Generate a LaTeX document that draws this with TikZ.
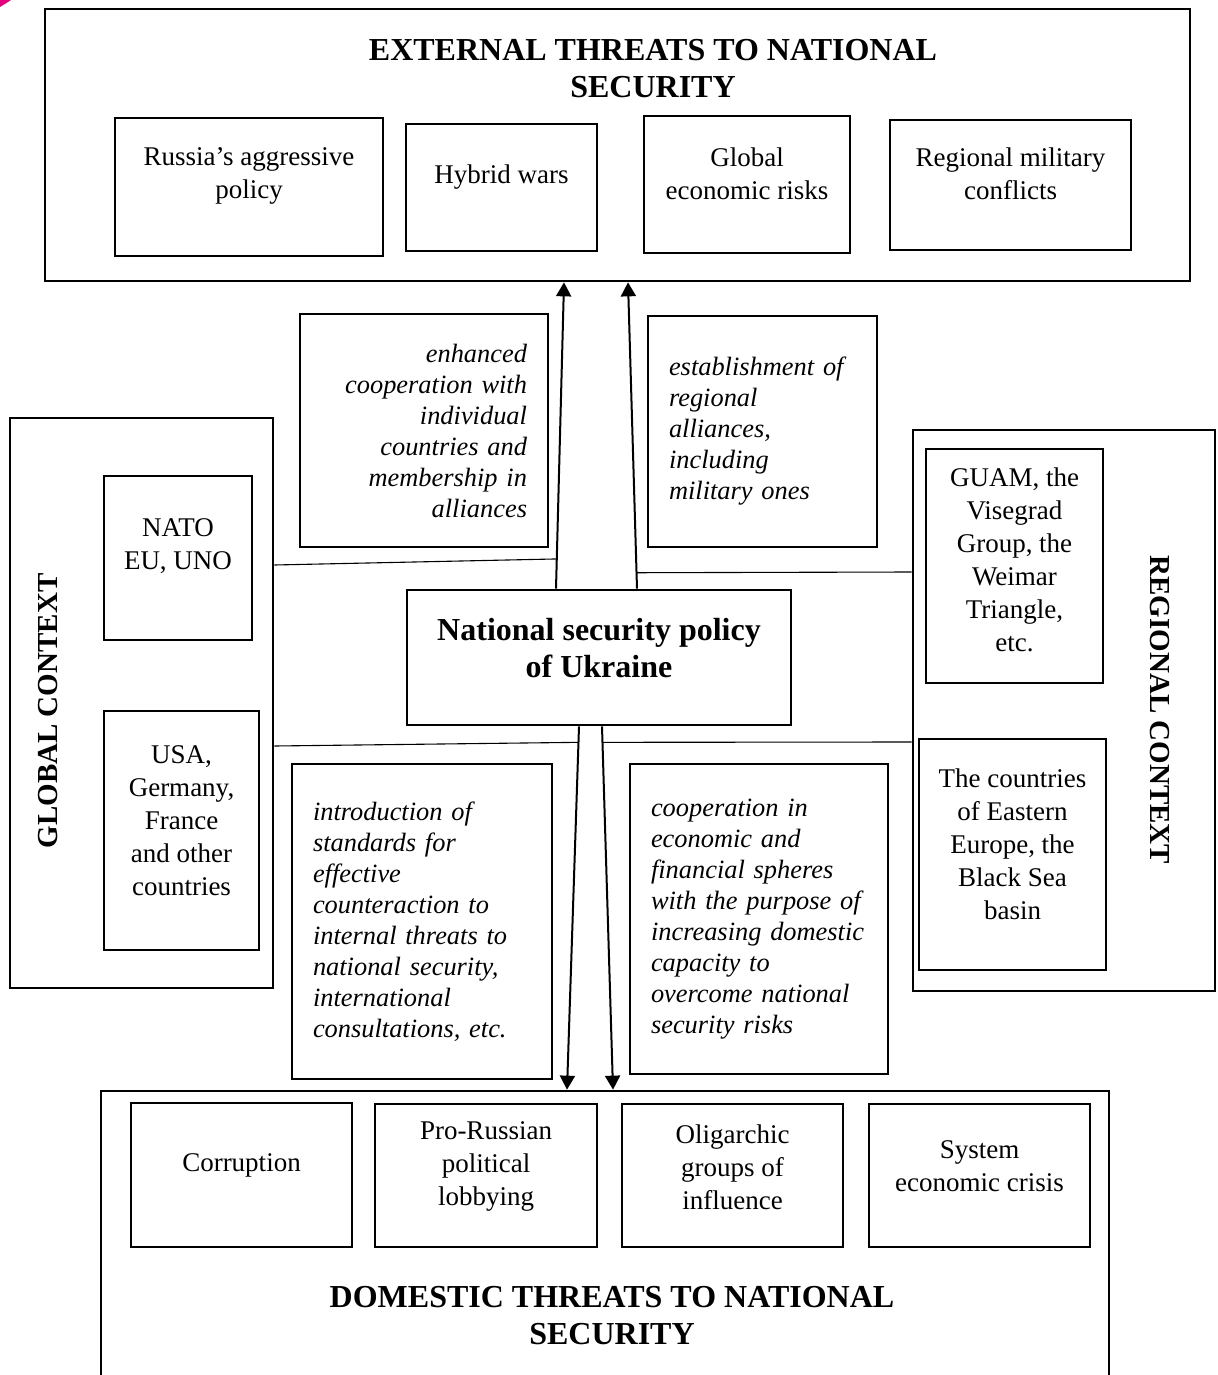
\documentclass[tikz,border=0pt]{standalone}
\usepackage{fontspec}
\setmainfont{Liberation Serif}
\usetikzlibrary{arrows.meta}
\definecolor{markpink}{RGB}{230,0,126}

\tikzset{
	box/.style={draw, line width=1.35pt, inner sep=0pt},
	txt/.style={align=center, inner sep=0pt, font=\fontsize{13.5}{16.5}\selectfont},
	note/.style={box, inner xsep=10.5pt, font=\fontsize{13.2}{15.5}\selectfont\itshape},
	head/.style={align=center, inner sep=0pt, font=\fontsize{16}{18.5}\selectfont\bfseries},
	side/.style={inner sep=0pt, font=\fontsize{14.5}{17}\selectfont\bfseries},
	link/.style={line width=0.55pt},
	push/.style={line width=1pt, -{Triangle[length=7pt, width=7.5pt]}}
}

\begin{document}
\begin{tikzpicture}[x=0.5pt, y=-0.5pt]
	\useasboundingbox (0,0) rectangle (1218,1375);
	\fill[markpink] (0,0) -- (11,0) .. controls (7,3) and (3,5) .. (0,7) -- cycle;

	\node[box, minimum width=572.5pt, minimum height=136pt] (ext) at (617.5,145) {};
	\node[head] (ext-t) at (653,68.5) {EXTERNAL THREATS TO NATIONAL\\SECURITY};
	\node[box, minimum width=134pt, minimum height=69pt] (rus) at (249,187) {};
	\node[txt] (rus-t) at ([yshift=5.5pt]rus.center) {Russia's aggressive\\policy};
	\node[box, minimum width=95.5pt, minimum height=63.5pt] (hyb) at (501.5,187.5) {};
	\node[txt] (hyb-t) at ([yshift=5pt]hyb.center) {Hybrid wars};
	\node[box, minimum width=103pt, minimum height=68.5pt] (gecon) at (747,184.5) {};
	\node[txt] (gecon-t) at ([yshift=5.25pt]gecon.center) {Global\\economic risks};
	\node[box, minimum width=120.5pt, minimum height=65pt] (regm) at (1010.5,185) {};
	\node[txt] (regm-t) at ([yshift=5.5pt]regm.center) {Regional military\\conflicts};

	\node[note, text width=103pt, align=right, minimum height=116.5pt] (enh) at (424,430.5)
		{enhanced\\cooperation with\\individual\\countries and\\membership in\\alliances};
	\node[note, text width=93.5pt, align=left, minimum height=115.5pt] (est) at (762.5,431.5)
		{establishment of\\regional\\alliances,\\including\\military ones};

	\node[box, minimum width=192pt, minimum height=67.5pt] (nsp) at (599,657.5) {};
	\node[head] (nsp-t) at ([yshift=4.5pt]nsp.center) {National security policy\\of Ukraine};

	\node[box, minimum width=131.5pt, minimum height=285pt] (gctx) at (141.5,703) {};
	\node[side, rotate=90] (gctx-t) at (48,711) {GLOBAL CONTEXT};
	\node[box, minimum width=74pt, minimum height=82pt] (nato) at (178,558) {};
	\node[txt] (nato-t) at ([yshift=6pt]nato.center) {NATO\\EU, UNO};
	\node[box, minimum width=77.5pt, minimum height=119.5pt] (usa) at (181.5,830.5) {};
	\node[txt] (usa-t) at ([yshift=4.75pt]usa.center) {USA,\\Germany,\\France\\and other\\countries};

	\node[box, minimum width=151pt, minimum height=280.5pt] (rctx) at (1064,710.5) {};
	\node[side, rotate=-90] (rctx-t) at (1160,710) {REGIONAL CONTEXT};
	\node[box, minimum width=88.5pt, minimum height=117pt] (guam) at (1014.5,566) {};
	\node[txt] (guam-t) at ([yshift=3pt]guam.center) {GUAM, the\\Visegrad\\Group, the\\Weimar\\Triangle,\\etc.};
	\node[box, minimum width=93.5pt, minimum height=115.5pt] (ceur) at (1012.5,854.5) {};
	\node[txt] (ceur-t) at ([yshift=5pt]ceur.center) {The countries\\of Eastern\\Europe, the\\Black Sea\\basin};

	\node[note, text width=109pt, align=left, minimum height=157.5pt] (intro) at (422,921.5)
		{introduction of\\standards for\\effective\\counteraction to\\internal threats to\\national security,\\international\\consultations, etc.};
	\node[note, text width=108pt, align=left, minimum height=155pt] (coop) at (759,919)
		{cooperation in\\economic and\\financial spheres\\with the purpose of\\increasing domestic\\capacity to\\overcome national\\security risks};

	\node[box, minimum width=504pt, minimum height=147pt] (dom) at (605,1238) {};
	\node[head] (dom-t) at (612,1315.5) {DOMESTIC THREATS TO NATIONAL\\SECURITY};
	\node[box, minimum width=110.5pt, minimum height=72pt] (corr) at (241.5,1175) {};
	\node[txt] (corr-t) at ([yshift=5pt]corr.center) {Corruption};
	\node[box, minimum width=111pt, minimum height=71.5pt] (lobby) at (486,1175.5) {};
	\node[txt] (lobby-t) at ([yshift=4.75pt]lobby.center) {Pro-Russian\\political\\lobbying};
	\node[box, minimum width=110.5pt, minimum height=71.5pt] (olig) at (732.5,1175.5) {};
	\node[txt] (olig-t) at ([yshift=4.25pt]olig.center) {Oligarchic\\groups of\\influence};
	\node[box, minimum width=110.5pt, minimum height=71.5pt] (crisis) at (979.5,1175.5) {};
	\node[txt] (crisis-t) at ([yshift=4.75pt]crisis.center) {System\\economic crisis};

	\draw[push] ([xshift=-21.5pt]nsp.north) -- coordinate[pos=0.097] (ul) ([xshift=-26.75pt]ext.south);
	\draw[push] ([xshift=19pt]nsp.north) -- coordinate[pos=0.052] (ur) ([xshift=5.25pt]ext.south);
	\draw[push] ([xshift=-10pt]nsp.south) -- coordinate[pos=0.044] (dl) ([xshift=-19pt]dom.north);
	\draw[push] ([xshift=1.5pt]nsp.south) -- coordinate[pos=0.044] (dr) ([xshift=4pt]dom.north);

	\draw[link] ([yshift=69pt]gctx.east) -- (ul);
	\draw[link] ([yshift=-21.5pt]gctx.east) -- (dl);
	\draw[link] (ur) -- ([yshift=69.25pt]rctx.west);
	\draw[link] (dr) -- ([yshift=-15.75pt]rctx.west);
\end{tikzpicture}
\end{document}
